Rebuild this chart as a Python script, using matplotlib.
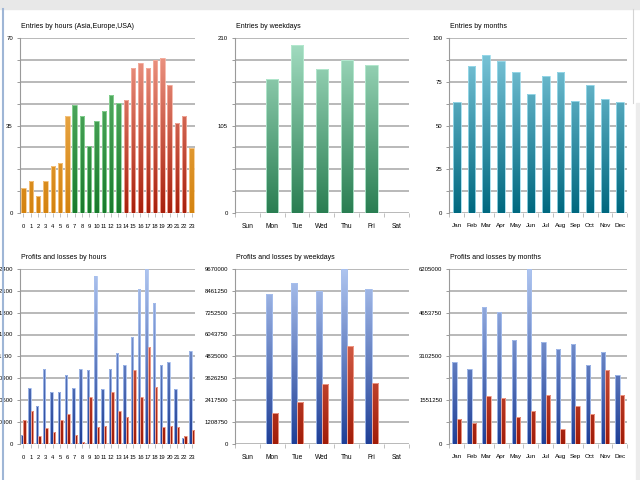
import numpy as np
import matplotlib
matplotlib.use('Agg')
import matplotlib.pyplot as plt
from matplotlib.colors import LinearSegmentedColormap
from matplotlib.patches import Rectangle
from matplotlib.lines import Line2D

plt.rcParams['font.family'] = ['Liberation Sans Narrow', 'Liberation Sans', 'DejaVu Sans']

# ---- data ----
hours = [str(h) for h in range(24)]
weekdays = ['Sun', 'Mon', 'Tue', 'Wed', 'Thu', 'Fri', 'Sat']
months = ['Jan', 'Feb', 'Mar', 'Apr', 'May', 'Jun', 'Jul', 'Aug', 'Sep', 'Oct', 'Nov', 'Dec']

entries_hours = [10, 13, 7, 13, 19, 20, 39, 43, 39, 27, 37, 41, 47, 44,
                 45, 58, 60, 58, 61, 62, 51, 36, 39, 26]
# session of each hour: a = Asia, e = Europe, u = USA
session_hours = ['a'] * 7 + ['e'] * 7 + ['u'] * 9 + ['a']
entries_weekdays = [0, 161, 201, 173, 184, 177, 0]
entries_months = [63.5, 84, 90, 87, 80.5, 68, 78, 80.5, 64, 73, 65, 63.5]

profit_hours = [366000, 2168000, 1480000, 2925000, 2015000, 2015000, 2678000, 2168000,
                2925000, 2866000, 6513000, 2117000, 2925000, 3520000, 3061000, 4166000,
                6020000, 6802400, 5476000, 3061000, 3172000, 2117000, 221000, 3622000]
loss_hours = [918000, 1275000, 315000, 612000, 451000, 918000, 1165000, 366000,
              77000, 1820000, 663000, 714000, 2015000, 1275000, 1063000, 2866000,
              1820000, 3767000, 2219000, 663000, 714000, 663000, 315000, 561000]
profit_weekdays = [0, 8286000, 8913000, 8434000, 9670000, 8563000, 0]
loss_weekdays = [0, 1735000, 2307000, 3303000, 5425000, 3359000, 0]
profit_months = [2889000, 2664000, 4867000, 4677000, 3683000, 6205000,
                 3623000, 3351000, 3541000, 2794000, 3256000, 2439000]
loss_months = [876000, 758000, 1705000, 1622000, 971000, 1160000,
               1752000, 521000, 1350000, 1066000, 2617000, 1752000]

# gradient colours: (bottom, top, edge)
ORANGE = ('#d4830f', '#f5bd6a', '#f7c98a')
GREEN = ('#187a2c', '#6cc077', '#8fd69a')
RED = ('#a8200c', '#f3a08e', '#f5b2a4')
MINT = ('#2a7e52', '#a6dfc4', '#b8ebd2')
TEAL = ('#00687f', '#86cde0', '#9ddcec')
BLUE = ('#1f3f96', '#b0c6f0', '#a8c0ee')
LOSS = ('#a11c08', '#f48a72', '#f5a593')

fig = plt.figure(figsize=(6.4, 4.8), dpi=100)
fig.patches.append(Rectangle((0, 1 - 9 / 480), 1, 9 / 480, transform=fig.transFigure,
                             color='#e8e8e8', zorder=0))
fig.lines.append(Line2D([2.5 / 640] * 2, [0, 1 - 9 / 480], transform=fig.transFigure,
                        color='#9fb6d6', lw=1.5))
fig.lines.append(Line2D([633 / 640] * 2, [1 - 103 / 480, 1 - 9 / 480], transform=fig.transFigure,
                        color='#d4d4d4', lw=0.8))
fig.patches.append(Rectangle((636 / 640, 0), 4 / 640, 1 - 103 / 480, transform=fig.transFigure,
                             color='#ececec', zorder=0))


def gradient_bars(ax, x, vals, width, colors, ymax):
    bottom, top, edge = colors
    cmap = LinearSegmentedColormap.from_list('g', [bottom, top])
    grad = np.linspace(0, 1, 256).reshape(-1, 1)
    bars = ax.bar(x, vals, width=width, facecolor='none', edgecolor=edge, lw=0.6, zorder=3)
    for b in bars:
        if b.get_height() <= 0:
            b.set_visible(False)
            continue
        x0 = b.get_x()
        im = ax.imshow(grad, extent=[x0, x0 + b.get_width(), 0, ymax], origin='lower',
                       cmap=cmap, aspect='auto', zorder=2, interpolation='bilinear')
        im.set_clip_path(b)
    return bars


def setup(ax, title, labels, ymax, labeled, ylabels, boundary_ticks, xsize):
    n = len(labels)
    ax.set_xlim(-0.5, n - 0.5)
    ax.set_ylim(0, ymax)
    grid = np.linspace(0, ymax, 9)
    for g in grid:
        ax.axhline(g, color='#a6a6a6', lw=1.1, zorder=1)
    ax.set_yticks(grid)
    ax.set_yticklabels([ylabels[labeled.index(i)] if i in labeled else '' for i in range(9)],
                       fontsize=4.3)
    ax.tick_params(axis='y', length=2, width=0.6, color='#8a8a8a', pad=3)
    ax.set_xticks(range(n))
    ax.set_xticklabels(labels, fontsize=xsize)
    if boundary_ticks:
        ax.set_xticks(np.arange(n + 1) - 0.5, minor=True)
        ax.tick_params(axis='x', which='major', length=0, pad=7)
        ax.tick_params(axis='x', which='minor', length=3, width=0.6, color='#b5b5b5')
    else:
        ax.tick_params(axis='x', which='major', length=3, width=0.6, color='#b5b5b5', pad=5)
    for s in ['top', 'right', 'bottom']:
        ax.spines[s].set_visible(False)
    ax.spines['left'].set_color('#9a9a9a')
    ax.spines['left'].set_linewidth(0.8)
    ax.text(0.005, 1.045, title, transform=ax.transAxes, fontsize=5, ha='left', va='bottom')


tops = [0.921, 0.440]
height = 0.365
lefts = [(0.031, 0.274), (0.367, 0.272), (0.702, 0.278)]

# ---- top row: entries ----
ax = fig.add_axes([lefts[0][0], tops[0] - height, lefts[0][1], height])
setup(ax, 'Entries by hours (Asia,Europe,USA)', hours, 70, [0, 4, 8], ['0', '35', '70'], False, 4.2)
sess_colors = {'a': ORANGE, 'e': GREEN, 'u': RED}
for i, v in enumerate(entries_hours):
    gradient_bars(ax, [i], [v], 0.6, sess_colors[session_hours[i]], 70)
ax.set_xlim(-0.5, 23.5)
ax.set_ylim(0, 70)

ax = fig.add_axes([lefts[1][0], tops[0] - height, lefts[1][1], height])
setup(ax, 'Entries by weekdays', weekdays, 210, [0, 4, 8], ['0', '105', '210'], True, 4.8)
gradient_bars(ax, range(7), entries_weekdays, 0.5, MINT, 210)
ax.set_xlim(-0.5, 6.5)
ax.set_ylim(0, 210)

ax = fig.add_axes([lefts[2][0], tops[0] - height, lefts[2][1], height])
setup(ax, 'Entries by months', months, 100, [0, 2, 4, 6, 8], ['0', '25', '50', '75', '100'], True, 4.6)
gradient_bars(ax, range(12), entries_months, 0.52, TEAL, 100)
ax.set_xlim(-0.5, 11.5)
ax.set_ylim(0, 100)

# ---- bottom row: profits and losses ----
ymax = 6802400
ax = fig.add_axes([lefts[0][0], tops[1] - height, lefts[0][1], height])
setup(ax, 'Profits and losses by hours', hours, ymax, list(range(9)),
      [str(int(round(v))) for v in np.linspace(0, ymax, 9)], False, 4.2)
x = np.arange(24)
gradient_bars(ax, x - 0.17, profit_hours, 0.34, BLUE, ymax)
gradient_bars(ax, x + 0.17, loss_hours, 0.34, LOSS, ymax)
ax.set_xlim(-0.5, 23.5)
ax.set_ylim(0, ymax)

ymax = 9670000
ax = fig.add_axes([lefts[1][0], tops[1] - height, lefts[1][1], height])
setup(ax, 'Profits and losses by weekdays', weekdays, ymax, list(range(9)),
      [str(int(round(v))) for v in np.linspace(0, ymax, 9)], True, 4.8)
x = np.arange(7)
gradient_bars(ax, x - 0.125, profit_weekdays, 0.25, BLUE, ymax)
gradient_bars(ax, x + 0.125, loss_weekdays, 0.25, LOSS, ymax)
ax.set_xlim(-0.5, 6.5)
ax.set_ylim(0, ymax)

ymax = 6205000
ax = fig.add_axes([lefts[2][0], tops[1] - height, lefts[2][1], height])
setup(ax, 'Profits and losses by months', months, ymax, [0, 2, 4, 6, 8],
      [str(int(round(v))) for v in np.linspace(0, ymax, 5)], True, 4.6)
x = np.arange(12)
gradient_bars(ax, x - 0.145, profit_months, 0.29, BLUE, ymax)
gradient_bars(ax, x + 0.145, loss_months, 0.29, LOSS, ymax)
ax.set_xlim(-0.5, 11.5)
ax.set_ylim(0, ymax)

fig.savefig('out.png', dpi=100, facecolor='white')
